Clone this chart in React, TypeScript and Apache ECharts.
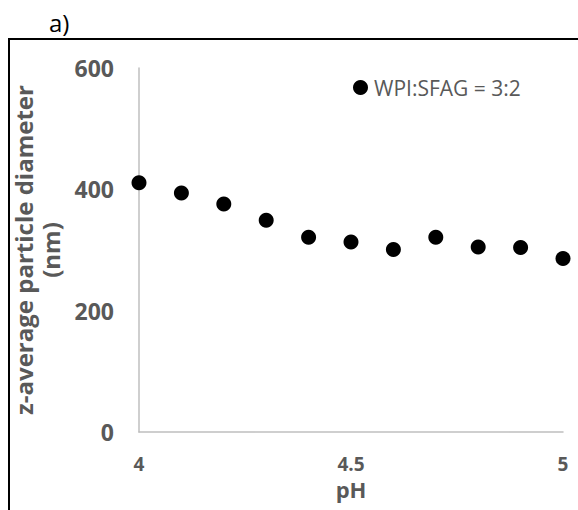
import React, { useEffect, useRef } from "react";
import * as echarts from "echarts";

const seriesName = "WPI:SFAG = 3:2";
const pH = [4.0, 4.1, 4.2, 4.3, 4.4, 4.5, 4.6, 4.7, 4.8, 4.9, 5.0];
const diameter = [411, 394, 376, 349, 321, 313, 301, 321, 305, 304, 286];
const xTicks = [4, 4.5, 5];
const yTicks = [0, 200, 400, 600];

const FONT = "'Open Sans', sans-serif";
const GRAY = "#595959";

export default function App() {
  const ref = useRef<HTMLDivElement>(null);
  useEffect(() => {
    if (!ref.current) return;
    const chart = echarts.init(ref.current, null, { renderer: "svg" });
    chart.setOption({
      animation: false,
      backgroundColor: "#ffffff",
      textStyle: { fontFamily: FONT },
      grid: { left: 139, right: 15, top: 68, bottom: 78, containLabel: false, outerBoundsMode: "none" },
      graphic: [
        {
          type: "rect",
          shape: { x: 9, y: 39, width: 700, height: 600 },
          style: { fill: "none", stroke: "#000", lineWidth: 2 },
          silent: true,
        },
        {
          type: "text",
          x: 49,
          y: 10,
          style: { text: "a)", fontSize: 24, fontFamily: FONT, fill: "#000" },
        },
      ],
      legend: {
        data: [seriesName],
        left: 348,
        top: 72,
        icon: "circle",
        itemWidth: 15,
        itemHeight: 15,
        itemStyle: { color: "#000", opacity: 1 },
        textStyle: { color: GRAY, fontSize: 21, fontFamily: FONT, padding: [0, 0, 0, 1] },
      },
      xAxis: {
        type: "value",
        min: 4,
        max: 5,
        interval: 0.5,
        name: "pH",
        nameLocation: "middle",
        nameGap: 46,
        nameTextStyle: { color: GRAY, fontSize: 22, fontWeight: "bold", fontFamily: FONT },
        axisLine: { show: true, lineStyle: { color: "#bfbfbf", width: 1.5 } },
        axisTick: { show: false },
        splitLine: { show: false },
        axisLabel: {
          color: GRAY,
          fontSize: 19,
          fontWeight: "bold",
          fontFamily: FONT,
          margin: 22,
          formatter: (v: number) => (xTicks.includes(v) ? String(v) : ""),
        },
      },
      yAxis: {
        type: "value",
        min: 0,
        max: 600,
        interval: 200,
        name: "z-average particle diameter\n(nm)",
        nameLocation: "middle",
        nameRotate: 90,
        nameGap: 60,
        nameTextStyle: { color: GRAY, fontSize: 24, fontWeight: "bold", fontFamily: FONT, lineHeight: 27 },
        axisLine: { show: true, lineStyle: { color: "#bfbfbf", width: 1.5 } },
        axisTick: { show: false },
        splitLine: { show: false },
        axisLabel: {
          color: GRAY,
          fontSize: 23,
          fontWeight: "bold",
          fontFamily: FONT,
          margin: 25,
          formatter: (v: number) => (yTicks.includes(v) ? String(v) : ""),
        },
      },
      series: [
        {
          name: seriesName,
          type: "scatter",
          symbol: "circle",
          symbolSize: 15,
          itemStyle: { color: "#000000", opacity: 1 },
          data: pH.map((x, i) => [x, diameter[i]]),
        },
      ],
    });
    return () => chart.dispose();
  }, []);
  return (
    <div
      ref={ref}
      style={{ position: "absolute", left: 0, top: 0, width: 578, height: 510 }}
    />
  );
}
